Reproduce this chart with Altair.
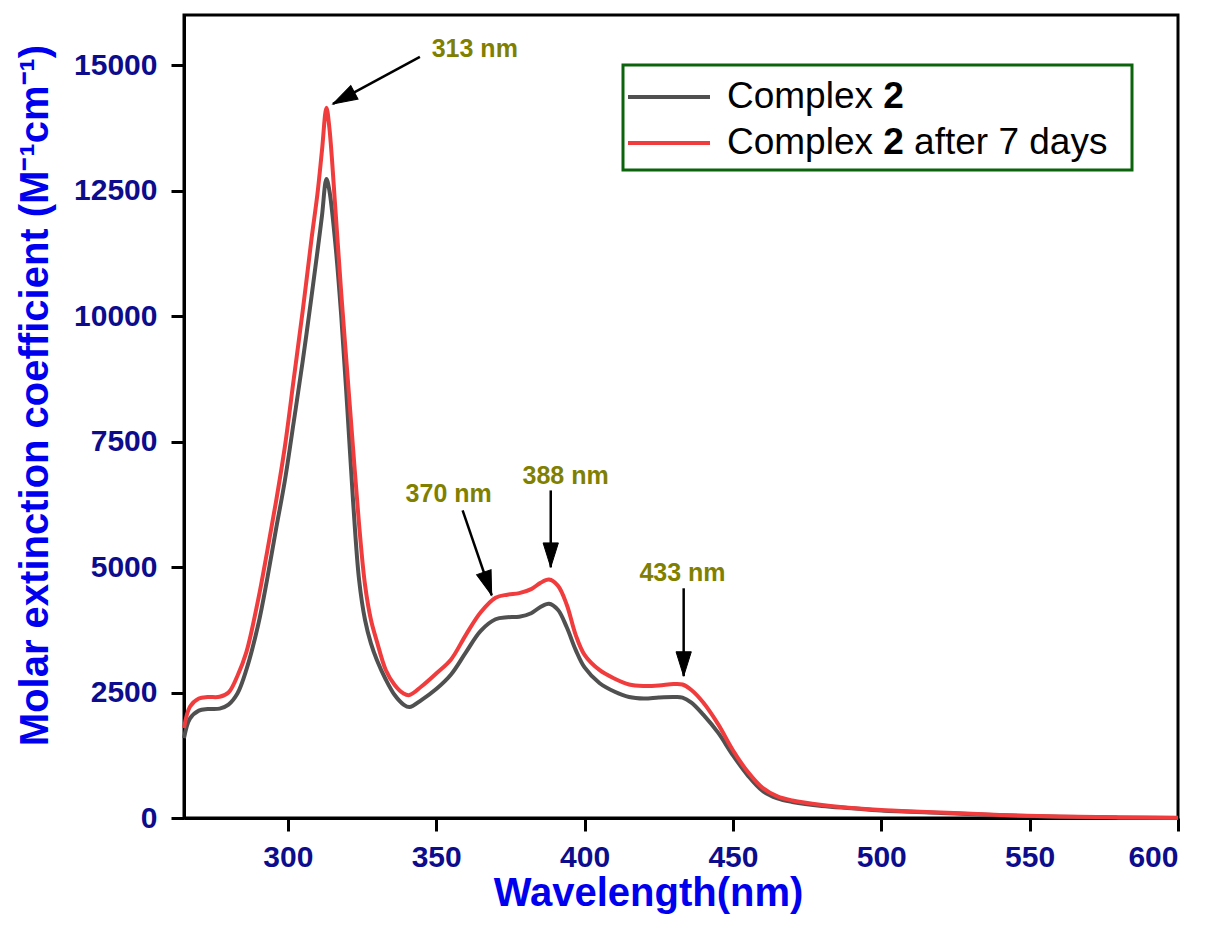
import altair as alt
import pandas as pd

# ---------------- data ----------------
wavelength = [265, 267, 270, 273, 277, 280, 283, 286, 290, 293, 296, 299, 302, 305,
              308, 310, 311.5, 313, 314, 316, 318, 320, 322, 324, 326, 328, 330, 333, 336,
              339, 341, 345, 350, 355, 360, 365, 370, 374, 378, 382, 385, 388, 391,
              394, 397, 400, 405, 410, 415, 420, 425, 430, 433, 436, 440, 445, 450,
              455, 460, 465, 470, 480, 490, 500, 520, 540, 560, 580, 600]

complex2 = [1590, 1980, 2140, 2170, 2180, 2260, 2480, 2950, 3850, 4750, 5750, 6725,
            7900, 9100, 10400, 11300, 12000, 12730, 12500, 11450, 10000, 8200, 6300,
            4750, 3950, 3480, 3150, 2760, 2450, 2260, 2210, 2350, 2570, 2860, 3300, 3730,
            3960, 4000, 4010, 4080, 4200, 4270, 4150, 3800, 3350, 3000, 2690, 2520,
            2410, 2380, 2400, 2410, 2400, 2300, 2060, 1700, 1250, 850, 540, 390, 320,
            240, 195, 150, 100, 55, 25, 8, 0]

complex2_7days = [1790, 2215, 2380, 2410, 2415, 2500, 2830, 3300, 4350, 5300, 6300,
                  7400, 8750, 10100, 11550, 12450, 13300, 14150, 13750, 12150, 10450,
                  8900, 7350, 5850, 4650, 3950, 3520, 2950, 2650, 2480, 2450, 2620, 2880,
                  3160, 3650, 4100, 4390, 4450, 4480, 4560, 4680, 4750, 4630, 4250,
                  3650, 3250, 2950, 2780, 2660, 2630, 2640, 2670, 2660, 2550, 2300,
                  1870, 1350, 920, 600, 430, 350, 260, 200, 160, 110, 60, 30, 12, 5]

series_names = ["Complex 2", "Complex 2 after 7 days"]

x_ticks = [300, 350, 400, 450, 500, 550, 600]
y_ticks = [0, 2500, 5000, 7500, 10000, 12500, 15000]

# peak annotations (label position, arrow start, arrow tip), in data units
ann_text = ["313 nm", "370 nm", "388 nm", "433 nm"]
ann_label_x = [363, 354.2, 393.6, 433]
ann_label_y = [15320, 6448, 6806, 4875]
arrow_x1 = [344.5, 358.9, 388.6, 433.4]
arrow_y1 = [15164, 6129, 6527, 4577]
arrow_x2 = [315.2, 368.7, 388.6, 433.4]
arrow_y2 = [14228, 4438, 4995, 2826]
arrow_angle = [241.6, 161.2, 180, 180]

# ---------------- styling ----------------
GREY = "#505050"
RED = "#f03c3c"
OLIVE = "#808000"
TICK_BLUE = "#0c0c8c"
TITLE_BLUE = "#0000ee"
FONT = "Liberation Sans"

df_black = pd.DataFrame({"wl": wavelength, "eps": complex2})
df_red = pd.DataFrame({"wl": wavelength, "eps": complex2_7days})
df_ann = pd.DataFrame({"x": ann_label_x, "y": ann_label_y, "text": ann_text})
df_arrow = pd.DataFrame({"x": arrow_x1, "y": arrow_y1, "x2": arrow_x2,
                         "y2": arrow_y2, "angle": arrow_angle})

W, H = 994, 803

x_scale = alt.Scale(domain=[265, 600], nice=False, zero=False)
y_scale = alt.Scale(domain=[0, 16000], nice=False, zero=True)

x_enc = alt.X("wl:Q", scale=x_scale,
              axis=alt.Axis(values=x_ticks, title="Wavelength(nm)", format="d",
                            labelPadding=11, titlePadding=1, titleX=464))
y_enc = alt.Y("eps:Q", scale=y_scale,
              axis=alt.Axis(values=y_ticks, title="Molar extinction coefficient (M⁻¹cm⁻¹)",
                            format="d", labelPadding=14, titlePadding=18, titleY=380))

line_black = alt.Chart(df_black).mark_line(color=GREY, strokeWidth=4,
                                           interpolate="catmull-rom").encode(x=x_enc, y=y_enc)
line_red = alt.Chart(df_red).mark_line(color=RED, strokeWidth=4,
                                       interpolate="catmull-rom").encode(
    x=alt.X("wl:Q", scale=x_scale), y=alt.Y("eps:Q", scale=y_scale))

arrow_lines = alt.Chart(df_arrow).mark_rule(color="black", strokeWidth=2.5).encode(
    x=alt.X("x:Q", scale=x_scale), y=alt.Y("y:Q", scale=y_scale),
    x2="x2:Q", y2="y2:Q")

arrow_heads = alt.Chart(df_arrow).mark_point(
    shape="M0,0L0.36,1.15L-0.36,1.15Z", filled=True, fill="black", stroke="black",
    strokeWidth=1, opacity=1, size=1800).encode(
    x=alt.X("x2:Q", scale=x_scale), y=alt.Y("y2:Q", scale=y_scale),
    angle=alt.Angle("angle:Q", scale=None))

ann_labels = alt.Chart(df_ann).mark_text(
    font=FONT, fontSize=25, fontWeight="bold", color=OLIVE,
    align="center", baseline="middle").encode(
    x=alt.X("x:Q", scale=x_scale), y=alt.Y("y:Q", scale=y_scale), text="text:N")

# ---------------- legend (built by hand for the bold "2") ----------------
one = pd.DataFrame({"a": [0]})
LEG_FS = 37
# Arial / Liberation Sans advance widths (em units)
reg_w = {"C": .722, "o": .556, "m": .833, "p": .556, "l": .222, "e": .556, "x": .5, " ": .278}
w_complex = sum(reg_w[c] for c in "Complex ") * LEG_FS
w_two = 0.556 * LEG_FS

leg_x0, leg_x1, leg_y0, leg_y1 = 439, 948, 50, 155
row_y = [82, 128]
text_x = 543

legend_box = alt.Chart(one).mark_rect(fill="white", stroke="#0b640b", strokeWidth=3).encode(
    x=alt.value(leg_x0), x2=alt.value(leg_x1), y=alt.value(leg_y0), y2=alt.value(leg_y1))

legend_layers = [legend_box]
for i, col in enumerate([GREY, RED]):
    legend_layers.append(alt.Chart(one).mark_rule(color=col, strokeWidth=4).encode(
        x=alt.value(444), x2=alt.value(526), y=alt.value(row_y[i])))
    legend_layers.append(alt.Chart(one).mark_text(
        text="Complex", font=FONT, fontSize=LEG_FS, align="left", baseline="middle",
        color="black").encode(x=alt.value(text_x), y=alt.value(row_y[i])))
    legend_layers.append(alt.Chart(one).mark_text(
        text="2", font=FONT, fontSize=LEG_FS, fontWeight="bold", align="left",
        baseline="middle", color="black").encode(
        x=alt.value(text_x + w_complex), y=alt.value(row_y[i])))
legend_layers.append(alt.Chart(one).mark_text(
    text="after 7 days", font=FONT, fontSize=LEG_FS, align="left", baseline="middle",
    color="black").encode(x=alt.value(text_x + w_complex + w_two + 0.278 * LEG_FS),
                          y=alt.value(row_y[1])))

chart = alt.layer(
    line_black, line_red, arrow_lines, arrow_heads, ann_labels, *legend_layers
).properties(
    width=W, height=H,
    autosize=alt.AutoSizeParams(type="none"),
    padding={"left": 176, "top": 7, "right": 26, "bottom": 106},
).configure_view(
    stroke="black", strokeWidth=3
).configure_axis(
    grid=False, domainColor="black", domainWidth=3, tickColor="black", tickWidth=3,
    tickSize=13, labelFont=FONT, labelFontSize=30, labelFontWeight="bold",
    labelColor=TICK_BLUE, titleFont=FONT, titleFontSize=40, titleFontWeight="bold",
    titleColor=TITLE_BLUE
)

chart.save("out.html", embed_options={"renderer": "svg", "actions": False})
